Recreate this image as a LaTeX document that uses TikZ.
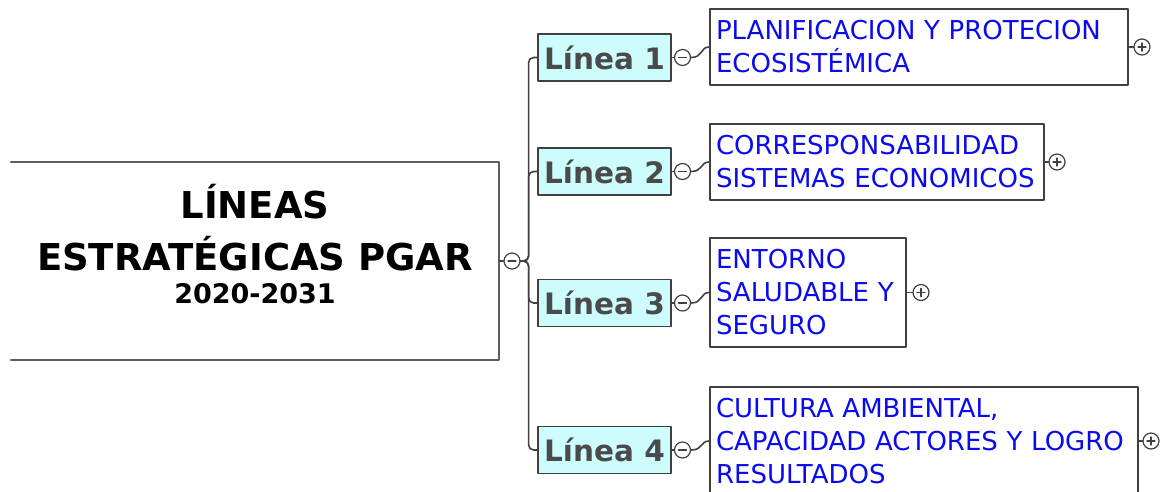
\documentclass[tikz,border=0pt]{standalone}
\usepackage{fontspec}
\setmainfont{DejaVu Sans}
\usepackage{xcolor}
\usetikzlibrary{calc}
\definecolor{lineafill}{HTML}{CCFCFC}
\definecolor{lineatxt}{HTML}{4A4A4A}
\definecolor{hojatxt}{HTML}{0A0AF0}
\definecolor{borde}{HTML}{404040}
\tikzset{
  raiz/.style={rectangle, minimum width=488pt, minimum height=198pt, inner sep=0pt},
  lineabox/.style={rectangle, draw=borde, fill=lineafill, line width=1.7pt, minimum width=133pt,
    minimum height=47pt, inner sep=0pt, text=lineatxt, font=\bfseries\fontsize{29.5}{34}\selectfont},
  hoja/.style={rectangle, draw=borde, line width=1.7pt, inner xsep=6pt, inner ysep=0pt,
    align=left, text=hojatxt, font=\fontsize{26}{33}\selectfont},
  boton/.style={circle, draw=borde, fill=white, line width=1.2pt, minimum size=16pt, inner sep=0pt},
  menos/.style={boton, path picture={
    \draw[line width=1.2pt] ([xshift=-4pt]path picture bounding box.center)
      -- ([xshift=4pt]path picture bounding box.center);}},
  mas/.style={boton, path picture={
    \draw[line width=1.2pt] ([xshift=-4pt]path picture bounding box.center)
      -- ([xshift=4pt]path picture bounding box.center);
    \draw[line width=1.2pt] ([yshift=-4pt]path picture bounding box.center)
      -- ([yshift=4pt]path picture bounding box.center);}},
  conector/.style={draw=borde, line width=1.6pt},
  every picture/.style={line cap=round, line join=round}
}
\begin{document}
\begin{tikzpicture}[x=1pt, y=-1pt]
  \useasboundingbox (0,0) rectangle (1160,491);

  % central box
  \node[raiz] (root) at (255,261) {};
  \draw[draw=borde!85, line width=1.7pt] (root.north west) -- (root.north east)
    -- (root.south east) -- (root.south west);
  \node[font=\bfseries\fontsize{37}{52}\selectfont, align=center] (titulo) at (255,244)
    {LÍNEAS\\ESTRATÉGICAS PGAR\\[-19pt]{\fontsize{27}{41}\selectfont 2020-2031}};
  \node[menos] (m0) at (512,261) {};

  % lineas
  \node[lineabox] (l1) at (604.5,57.5) {Línea 1};
  \node[lineabox] (l2) at (604.5,171.5) {Línea 2};
  \node[lineabox] (l3) at (604.5,303) {Línea 3};
  \node[lineabox] (l4) at (604.5,450) {Línea 4};

  \node[menos] (m1) at (682.5,57.5) {};
  \node[menos] (m2) at (682.5,171.5) {};
  \node[menos] (m3) at (682.5,303) {};
  \node[menos] (m4) at (682.5,450) {};

  % hojas
  \node[hoja, text width=406pt, minimum height=76pt] (h1) at (919,47)
    {PLANIFICACION Y PROTECION\\ECOSISTÉMICA};
  \node[hoja, text width=322pt, minimum height=76pt] (h2) at (877,162)
    {CORRESPONSABILIDAD\\SISTEMAS ECONOMICOS};
  \node[hoja, text width=184pt, minimum height=109pt] (h3) at (808,292.5)
    {ENTORNO\\SALUDABLE Y\\SEGURO};
  \node[hoja, text width=416pt, minimum height=108pt] (h4) at (924,441)
    {CULTURA AMBIENTAL,\\CAPACIDAD ACTORES Y LOGRO\\RESULTADOS};

  \node[mas] (p1) at (1142,47) {};
  \node[mas] (p2) at (1057,162) {};
  \node[mas] (p3) at (921,292.5) {};
  \node[mas] (p4) at (1151,441) {};

  % connectors
  \draw[conector] (root.east) -- (m0.west);
  \draw[conector, rounded corners=5pt] (m0.east) -- ++(8,0) |- (l1.west);
  \draw[conector, rounded corners=5pt] (m0.east) -- ++(8,0) |- (l2.west);
  \draw[conector, rounded corners=5pt] (m0.east) -- ++(8,0) |- (l3.west);
  \draw[conector, rounded corners=5pt] (m0.east) -- ++(8,0) |- (l4.west);

  \draw[conector] (l1.east) -- (m1.west);
  \draw[conector] (l2.east) -- (m2.west);
  \draw[conector] (l3.east) -- (m3.west);
  \draw[conector] (l4.east) -- (m4.west);

  \draw[conector] (m1.east) .. controls +(12,0) and +(-9,0) .. (h1.west);
  \draw[conector] (m2.east) .. controls +(12,0) and +(-9,0) .. (h2.west);
  \draw[conector] (m3.east) .. controls +(12,0) and +(-9,0) .. (h3.west);
  \draw[conector] (m4.east) .. controls +(12,0) and +(-9,0) .. (h4.west);

  \draw[conector] (h1.east) -- (p1.west);
  \draw[conector] (h2.east) -- (p2.west);
  \draw[conector] (h3.east) -- (p3.west);
  \draw[conector] (h4.east) -- (p4.west);
\end{tikzpicture}
\end{document}
